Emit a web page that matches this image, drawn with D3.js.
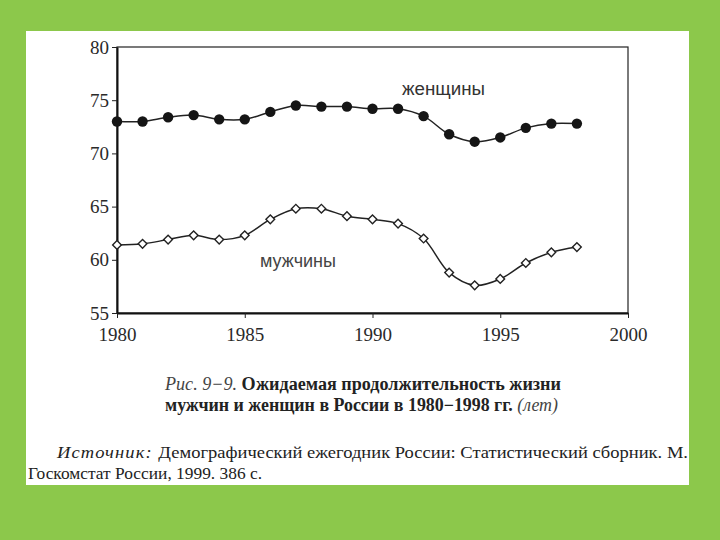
<!DOCTYPE html>
<html lang="ru">
<head>
<meta charset="utf-8">
<title>Ожидаемая продолжительность жизни</title>
<script src="https://d3js.org/d3.v7.min.js"></script>
<style>
  body { margin: 0; background: #8cc84b; }
  svg { display: block; }
</style>
</head>
<body>
<svg id="chart" width="720" height="540"></svg>
<script>
// years and life expectancy
var years = [1980, 1981, 1982, 1983, 1984, 1985, 1986, 1987, 1988, 1989,
             1990, 1991, 1992, 1993, 1994, 1995, 1996, 1997, 1998];
var women = [73.0, 73.0, 73.4, 73.6, 73.2, 73.2, 73.9, 74.5, 74.4, 74.4,
             74.2, 74.2, 73.5, 71.8, 71.1, 71.5, 72.4, 72.8, 72.8];
var men   = [61.4, 61.5, 61.9, 62.3, 61.9, 62.3, 63.8, 64.8, 64.8, 64.1,
             63.8, 63.4, 62.0, 58.8, 57.6, 58.2, 59.7, 60.7, 61.2];
var xTicks = [1980, 1985, 1990, 1995, 2000];
var yTicks = [55, 60, 65, 70, 75, 80];

var svg = d3.select("#chart");
var serif = "'Liberation Serif', 'DejaVu Serif', serif";
var sans = "'Liberation Sans', Arial, sans-serif";

// white page on the green slide
svg.append("rect")
   .attr("x", 26).attr("y", 31)
   .attr("width", 663).attr("height", 454)
   .attr("fill", "#ffffff");

var xScale = d3.scaleLinear().domain([1980, 2000]).range([117, 628]);
var yScale = d3.scaleLinear().domain([55, 80]).range([313, 47]);

// frame round the plot
svg.append("rect")
   .attr("x", xScale(1980)).attr("y", yScale(80))
   .attr("width", xScale(2000) - xScale(1980))
   .attr("height", yScale(55) - yScale(80))
   .attr("fill", "none")
   .attr("stroke", "#222")
   .attr("stroke-width", 1.2);

var xAxis = svg.append("g")
   .attr("transform", "translate(0," + yScale(55) + ")")
   .call(d3.axisBottom(xScale).tickValues(xTicks).tickFormat(d3.format("d"))
           .tickSize(5).tickSizeOuter(0).tickPadding(10));
var yAxis = svg.append("g")
   .attr("transform", "translate(" + xScale(1980) + ",0)")
   .call(d3.axisLeft(yScale).tickValues(yTicks)
           .tickSize(5).tickSizeOuter(0).tickPadding(3));

[xAxis, yAxis].forEach(function(a) {
    a.attr("font-family", serif).attr("font-size", 19);
    a.select(".domain").attr("stroke", "#111").attr("stroke-width", 2);
    a.selectAll(".tick line").attr("stroke", "#222");
    a.selectAll("text").attr("fill", "#2a2a2a");
});

var line = d3.line()
    .x(function(d, i) { return xScale(years[i]); })
    .y(function(d) { return yScale(d); })
    .curve(d3.curveCatmullRom.alpha(0.5));

svg.append("path").datum(women)
   .attr("fill", "none").attr("stroke", "#222").attr("stroke-width", 1.5)
   .attr("d", line);
svg.append("path").datum(men)
   .attr("fill", "none").attr("stroke", "#222").attr("stroke-width", 1.5)
   .attr("d", line);

// women: filled circles
svg.selectAll(".women").data(women).enter()
   .append("circle").attr("class", "women")
   .attr("cx", function(d, i) { return xScale(years[i]); })
   .attr("cy", function(d) { return yScale(d); })
   .attr("r", 5.2)
   .attr("fill", "#151515");

// men: open diamonds
svg.selectAll(".men").data(men).enter()
   .append("path").attr("class", "men")
   .attr("transform", function(d, i) {
       return "translate(" + xScale(years[i]) + "," + yScale(d) + ") rotate(45)";
   })
   .attr("d", d3.symbol().type(d3.symbolSquare).size(38))
   .attr("fill", "#fff")
   .attr("stroke", "#222")
   .attr("stroke-width", 1.4);

// series labels
svg.append("text").attr("x", 402).attr("y", 95)
   .attr("font-family", sans).attr("font-size", "18px").attr("fill", "#333")
   .attr("textLength", 83).attr("lengthAdjust", "spacingAndGlyphs")
   .text("женщины");
svg.append("text").attr("x", 260).attr("y", 267)
   .attr("font-family", sans).attr("font-size", "18px").attr("fill", "#444")
   .attr("textLength", 76).attr("lengthAdjust", "spacingAndGlyphs")
   .text("мужчины");

// caption
var cap1 = svg.append("text").attr("x", 165).attr("y", 390)
   .attr("font-family", serif).attr("font-size", "18px").attr("fill", "#222")
   .attr("textLength", 396).attr("lengthAdjust", "spacingAndGlyphs");
cap1.append("tspan").attr("font-style", "italic").attr("fill", "#444").text("Рис. 9−9. ");
cap1.append("tspan").attr("font-weight", "bold").text("Ожидаемая продолжительность жизни");

var cap2 = svg.append("text").attr("x", 165).attr("y", 411)
   .attr("font-family", serif).attr("font-size", "18px").attr("fill", "#222")
   .attr("textLength", 393).attr("lengthAdjust", "spacingAndGlyphs");
cap2.append("tspan").attr("font-weight", "bold").text("мужчин и женщин в России в 1980−1998 гг. ");
cap2.append("tspan").attr("font-style", "italic").attr("fill", "#444").text("(лет)");

// source
var src1 = svg.append("text").attr("x", 57).attr("y", 458)
   .attr("font-family", serif).attr("font-size", "17px").attr("fill", "#222")
   .attr("textLength", 631).attr("lengthAdjust", "spacingAndGlyphs");
src1.append("tspan").attr("font-style", "italic").attr("letter-spacing", "1px").text("Источник: ");
src1.append("tspan").text("Демографический ежегодник России: Статистический сборник. М.");

svg.append("text").attr("x", 28).attr("y", 479)
   .attr("font-family", serif).attr("font-size", "17px").attr("fill", "#222")
   .attr("textLength", 234).attr("lengthAdjust", "spacingAndGlyphs")
   .text("Госкомстат России, 1999. 386 с.");
</script>
</body>
</html>
